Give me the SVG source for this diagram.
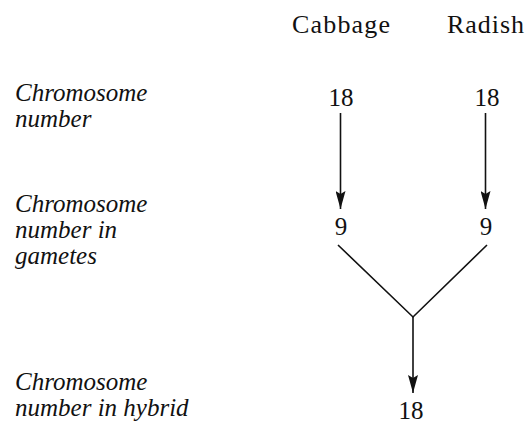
<svg xmlns="http://www.w3.org/2000/svg" width="528" height="423" viewBox="0 0 528 423" font-family="Liberation Serif, DejaVu Serif, serif">
<style>
.lab{font-style:italic;font-size:25px;fill:#111}
.hd{font-size:26px;fill:#111}
.num{font-size:25px;text-anchor:middle;fill:#111}
.ln{stroke:#111;stroke-width:1.6;fill:none}
</style>
<defs>
<marker id="ah" viewBox="0 0 18 10" refX="18" refY="5" markerWidth="18" markerHeight="10" markerUnits="userSpaceOnUse" orient="auto">
<path d="M0,0 L18,5 L0,10 L3,5 Z" fill="#111"/>
</marker>
</defs>
<rect width="528" height="423" fill="#fff"/>
<g id="header-cabbage"><text class="hd" x="292" y="33" textLength="98">Cabbage</text></g>
<g id="header-radish"><text class="hd" x="447" y="33" textLength="77">Radish</text></g>
<g id="label-number"><text class="lab" x="15" y="101">Chromosome</text><text class="lab" x="15" y="127">number</text></g>
<g id="label-gametes"><text class="lab" x="15" y="212">Chromosome</text><text class="lab" x="15" y="238">number in</text><text class="lab" x="15" y="264">gametes</text></g>
<g id="label-hybrid"><text class="lab" x="15" y="390">Chromosome</text><text class="lab" x="15" y="416">number in hybrid</text></g>
<g id="cabbage-18"><text class="num" x="341" y="106">18</text></g>
<g id="radish-18"><text class="num" x="487" y="106">18</text></g>
<g id="cabbage-9"><text class="num" x="341" y="235">9</text></g>
<g id="radish-9"><text class="num" x="486" y="235">9</text></g>
<g id="hybrid-18"><text class="num" x="411" y="419">18</text></g>
<g id="connectors">
<line class="ln" x1="340.5" y1="113" x2="340.5" y2="209" marker-end="url(#ah)"/>
<line class="ln" x1="485.5" y1="113" x2="485.5" y2="209" marker-end="url(#ah)"/>
<polyline class="ln" points="338,245 413,317 487,245"/>
<line class="ln" x1="413" y1="317" x2="413" y2="393" marker-end="url(#ah)"/>
</g>
</svg>
